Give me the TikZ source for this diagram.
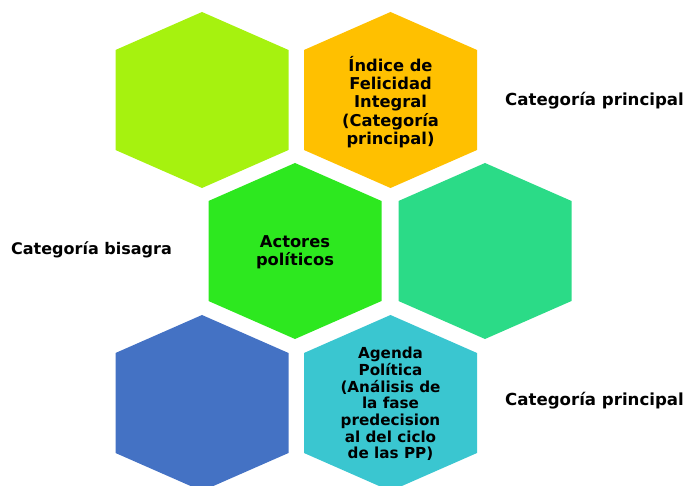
\documentclass[tikz,border=0pt]{standalone}
\usepackage{fontspec}
\setmainfont{DejaVu Sans}
\definecolor{hlime}{HTML}{A6F20F}
\definecolor{horange}{HTML}{FFC000}
\definecolor{hgreen}{HTML}{2DE81F}
\definecolor{hteal}{HTML}{2BDB87}
\definecolor{hblue}{HTML}{4472C4}
\definecolor{hcyan}{HTML}{3AC6D0}
\newcommand\hexfill[3]{\fill[#3, shift={(#1,#2)}] (0,-88) -- (86.5,-50) -- (86.5,50) -- (0,88) -- (-86.5,50) -- (-86.5,-50) -- cycle;}
\begin{document}
\begin{tikzpicture}[x=1pt,y=-1pt,
  hextext/.style={align=center, font=\bfseries\fontsize{16.3}{18.3}\selectfont, text=black, inner sep=0pt},
  hextextsmall/.style={align=center, font=\bfseries\fontsize{15.2}{16.7}\selectfont, text=black, inner sep=0pt},
  sidelabel/.style={anchor=base west, font=\bfseries\fontsize{16.6}{19}\selectfont, text=black, inner sep=0pt}]
\useasboundingbox (0,0) rectangle (686,486);
\hexfill{202}{100}{hlime}
\hexfill{390.5}{100}{horange}
\hexfill{295}{251}{hgreen}
\hexfill{485}{251}{hteal}
\hexfill{202}{403}{hblue}
\hexfill{390.5}{403}{hcyan}
\node[hextext] (indice) at (390.5,102) {Índice de\\Felicidad\\Integral\\(Categoría\\principal)};
\node[hextext] (actores) at (295,252) {Actores\\políticos};
\node[hextextsmall] (agenda) at (390.5,404) {Agenda\\Política\\(Análisis de\\la fase\\predecision\\al del ciclo\\de las PP)};
\node[sidelabel] (cp1) at (505,106) {Categoría principal};
\node[sidelabel, font=\bfseries\fontsize{16}{19}\selectfont] (cb) at (11,255) {Categoría bisagra};
\node[sidelabel] (cp2) at (505,406) {Categoría principal};
\end{tikzpicture}
\end{document}
